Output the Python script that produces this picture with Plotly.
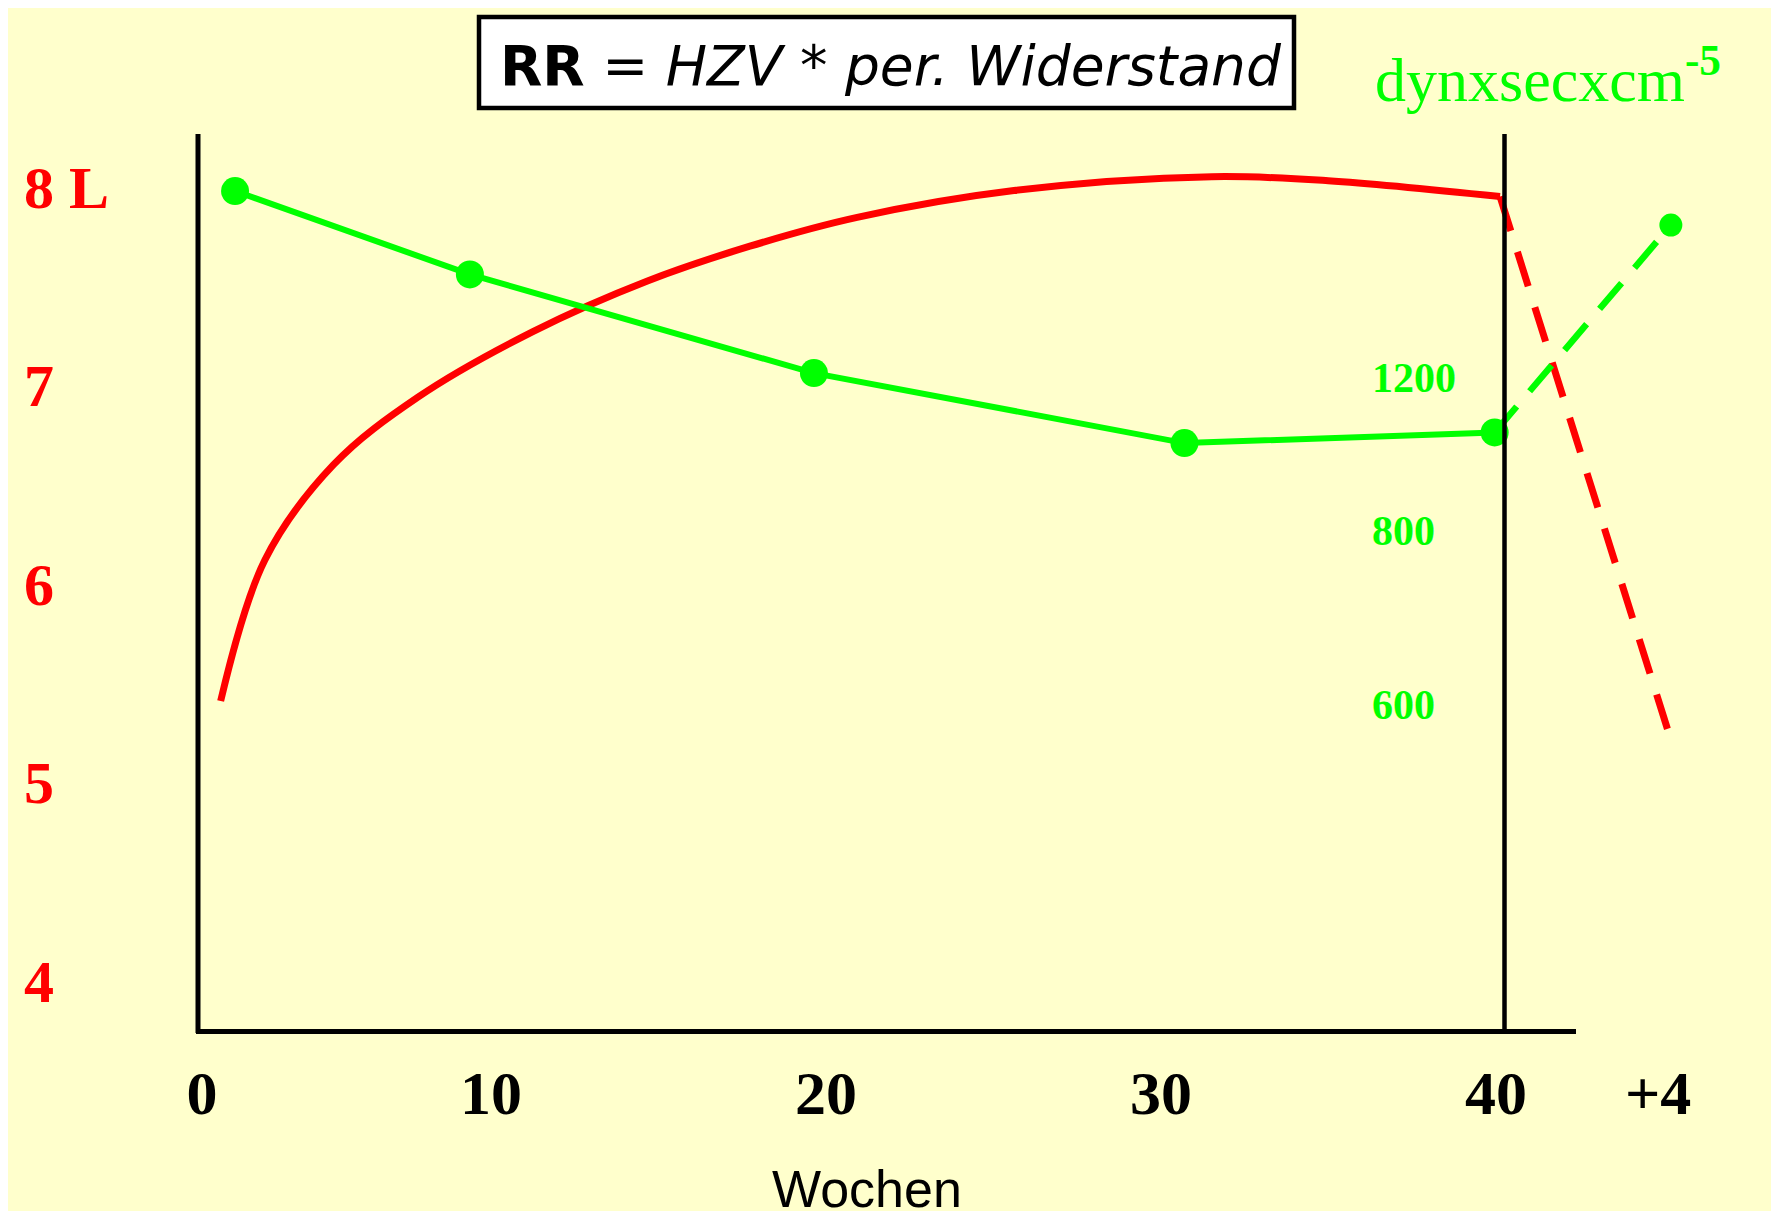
import plotly.graph_objects as go

# ---------------- data ----------------
# Herzzeitvolumen (HZV, Liter) - red curve
hzv_weeks = [1.93, 3.25, 5.30, 7.82, 11.25, 14.67, 17.73, 20.93, 25.61,
             31.52, 34.99, 40.12]
hzv_liters = [5.43, 6.14, 6.62, 6.96, 7.29, 7.545, 7.72, 7.865, 8.0,
              8.07, 8.05, 7.97]
# postpartum (+4 Wochen), dashed
hzv_post_weeks = [40.12, 45.21]
hzv_post_liters = [7.97, 5.24]

# peripherer Widerstand (dyn x sec x cm^-5) - green line
res_weeks = [2.36, 9.37, 19.64, 30.70, 39.96]
res_values = [1694, 1476, 1218, 1035, 1063]
res_post_weeks = [39.96, 45.22]
res_post_values = [1063, 1605]

# tick labels
x_tick_weeks = [1.37, 10, 20, 30, 40, 44.84]
x_tick_text = ["0", "10", "20", "30", "40", "+4"]
y_tick_liters = [8, 7, 6, 5, 4]
y_tick_text = ["8 L", "7", "6", "5", "4"]
y2_tick_vals = [1200, 800, 343]
y2_tick_text = ["1200", "800", "600"]

# ---------------- layout geometry ----------------
W, H = 1779, 1211
OFF = 8                      # page offset of the figure (body margin)
ML, MR, MT, MB = 15, 0, 0, 188
PW, PH = W - ML - MR, H - MT - MB


def px_x(px):
    return (px - OFF - ML) / PW


def px_y(py):
    return 1 - (py - OFF - MT) / PH


RED = "#FF0000"
GREEN = "#00FF00"
BG = "#FFFFCC"
SERIF = "Liberation Serif, Times New Roman, serif"

fig = go.Figure()

fig.add_trace(go.Scatter(
    x=hzv_weeks, y=hzv_liters, mode="lines",
    line=dict(color=RED, width=7, shape="spline", smoothing=1.0),
    showlegend=False, hoverinfo="skip"))

fig.add_trace(go.Scatter(
    x=res_weeks, y=res_values, yaxis="y2", mode="lines+markers",
    line=dict(color=GREEN, width=6),
    marker=dict(color=GREEN, size=28, opacity=1, line=dict(width=0)),
    showlegend=False, hoverinfo="skip"))

fig.add_trace(go.Scatter(
    x=res_post_weeks, y=res_post_values, yaxis="y2", mode="lines",
    line=dict(color=GREEN, width=6.5, dash="34px,20px"),
    showlegend=False, hoverinfo="skip"))

fig.add_trace(go.Scatter(
    x=res_post_weeks[1:], y=res_post_values[1:], yaxis="y2", mode="markers",
    marker=dict(color=GREEN, size=23, opacity=1, line=dict(width=0)),
    showlegend=False, hoverinfo="skip"))

fig.add_trace(go.Scatter(
    x=hzv_post_weeks, y=hzv_post_liters, mode="lines",
    line=dict(color=RED, width=7, dash="36px,22px"),
    showlegend=False, hoverinfo="skip"))

shapes = [
    # axis frame lines
    dict(type="line", xref="paper", yref="paper", x0=px_x(198), x1=px_x(198),
         y0=px_y(134), y1=px_y(1033), line=dict(color="black", width=5)),
    dict(type="line", xref="paper", yref="paper", x0=px_x(1504.5), x1=px_x(1504.5),
         y0=px_y(134), y1=px_y(1031), line=dict(color="black", width=4.5)),
    dict(type="line", xref="paper", yref="paper", x0=px_x(196), x1=px_x(1576),
         y0=px_y(1031.5), y1=px_y(1031.5), line=dict(color="black", width=5)),
    # formula box
    dict(type="rect", xref="paper", yref="paper", x0=px_x(479), x1=px_x(1294),
         y0=px_y(108), y1=px_y(17), fillcolor="white",
         line=dict(color="black", width=4.5), layer="above"),
]

annotations = [
    dict(text="<b>RR</b><i> = HZV * per. Widerstand</i>",
         xref="paper", yref="paper", x=px_x(891), y=px_y(66),
         xanchor="center", yanchor="middle", showarrow=False,
         font=dict(family="DejaVu Sans, Verdana, sans-serif", size=55, color="black")),
    dict(text="dynxsecxcm<sup><b>-5</b></sup>",
         xref="paper", yref="paper", x=px_x(1373), y=px_y(75),
         xanchor="left", yanchor="middle", showarrow=False,
         font=dict(family=SERIF, size=62, color=GREEN)),
    dict(text="Wochen",
         xref="paper", yref="paper", x=px_x(867), y=px_y(1189),
         xanchor="center", yanchor="middle", showarrow=False,
         font=dict(family="Liberation Sans, Arial, sans-serif", size=52, color="black")),
]

fig.update_layout(
    width=W, height=H, autosize=False,
    margin=dict(l=ML, r=MR, t=MT, b=MB, pad=0),
    paper_bgcolor=BG, plot_bgcolor="rgba(0,0,0,0)",
    showlegend=False,
    shapes=shapes, annotations=annotations,
    xaxis=dict(range=[-3.9701, 48.6866], showgrid=False, zeroline=False, showline=False,
               tickmode="array", tickvals=x_tick_weeks, ticktext=x_tick_text,
               ticks="outside", ticklen=8, tickcolor="rgba(0,0,0,0)",
               tickfont=dict(family=SERIF, size=62, color="black", weight="bold"),
               fixedrange=True),
    yaxis=dict(range=[3.7684, 8.9194], showgrid=False, zeroline=False, showline=False,
               anchor="free", position=0, side="right",
               tickmode="array", tickvals=y_tick_liters, ticktext=y_tick_text,
               ticks="", ticklabelshift=-4,
               tickfont=dict(family=SERIF, size=60, color=RED, weight="bold"),
               fixedrange=True),
    yaxis2=dict(range=[-502.0, 2172.5], overlaying="y", anchor="free",
                position=px_x(1371), side="right",
                showgrid=False, zeroline=False, showline=False,
                tickmode="array", tickvals=y2_tick_vals, ticktext=y2_tick_text,
                ticks="", ticklabelshift=-3,
                tickfont=dict(family=SERIF, size=42, color=GREEN, weight="bold"),
                fixedrange=True),
)

fig.write_html("out.html")
